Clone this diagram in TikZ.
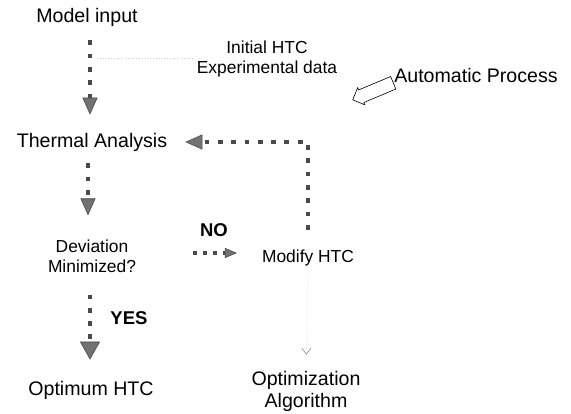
\documentclass[tikz,border=0pt]{standalone}
\usepackage{fontspec}
\setmainfont{Liberation Sans}
\usetikzlibrary{arrows.meta,positioning,shapes.arrows}
\definecolor{Dots}{HTML}{4A4A4A}
\definecolor{Head}{HTML}{727272}
\definecolor{Faint}{HTML}{D0D0D0}
\tikzset{big/.style={font=\fontsize{19.6}{22}\selectfont,align=center,inner sep=2pt},small/.style={font=\fontsize{17.4}{20}\selectfont,align=center,inner sep=2pt},answer/.style={font=\fontsize{18.5}{22}\selectfont\bfseries,inner sep=1pt},flow/.style={draw=Dots,line width=4.8pt,dash pattern=on 4.8pt off 8.5pt,-{Triangle[length=17pt,width=15pt,fill=Head,line width=.6pt]}},flowsmall/.style={draw=Dots,line width=4pt,dash pattern=on 4pt off 6pt,-{Triangle[length=12pt,width=10pt,fill=Head,line width=.6pt]}},faint/.style={draw=Faint,line width=.8pt,dotted},pointer/.style={single arrow,draw,line width=.6pt,fill=white,minimum height=44pt,inner xsep=0pt,inner ysep=6.5pt,single arrow head extend=2.5pt}}

\begin{document}
\begin{tikzpicture}[x=1pt,y=-1pt]
      \useasboundingbox (0,0) rectangle (571,414);
      \node[big](model) at (87,17){Model input};
      \node[big](therm) at (92,142){Thermal Analysis};
      \node[small](dev) at (92,256){Deviation\\Minimized?};
      \node[big](optimum) at (91,390){Optimum HTC};
      \node[small](modify) at (308,258){Modify HTC};
      \node[big](optalg) at (306,391){Optimization\\Algorithm};
      \node[small](initial) at (267,59){Initial HTC\\Experimental data};
      \node[big](auto) at (476,75){Automatic Process};
      \node[answer](no) at (214,230){NO};
      \node[answer](yes) at (129,318){YES};
      \node[pointer,rotate=202.8](autoarrow) at ([xshift=-16pt,yshift=-15pt]auto.west){};
      \coordinate (tap) at (97,58);
      % main loop
      \draw[flow,shorten <=12pt,shorten >=16pt]([xshift=3pt]model.south)--([xshift=-2pt]therm.north);
      \draw[flow,shorten <=10pt,shorten >=22pt]([xshift=-4pt]therm.south)--([xshift=-4pt]dev.north);
      \draw[flow,-{Triangle[length=18pt,width=20pt,fill=Head,line width=.6pt]},shorten <=20pt,shorten >=19pt]([xshift=-2pt]dev.south)--([xshift=-1pt]optimum.north);
      \draw[flowsmall,shorten >=23pt]([xshift=55pt,yshift=3pt]dev.east)--([yshift=5pt]modify.west);
      \draw[flow,shorten <=18pt,shorten >=16pt](modify.north)|-(therm.east);
      % faint marks
      \draw[faint](tap)--(initial.west |- tap);
      \draw[draw=Faint!35,line width=.5pt,-{Straight Barb[length=6pt,width=9pt,color=Faint!60!black]},shorten >=14pt](modify.south)--(optalg.north);
    \end{tikzpicture}
\end{document}
